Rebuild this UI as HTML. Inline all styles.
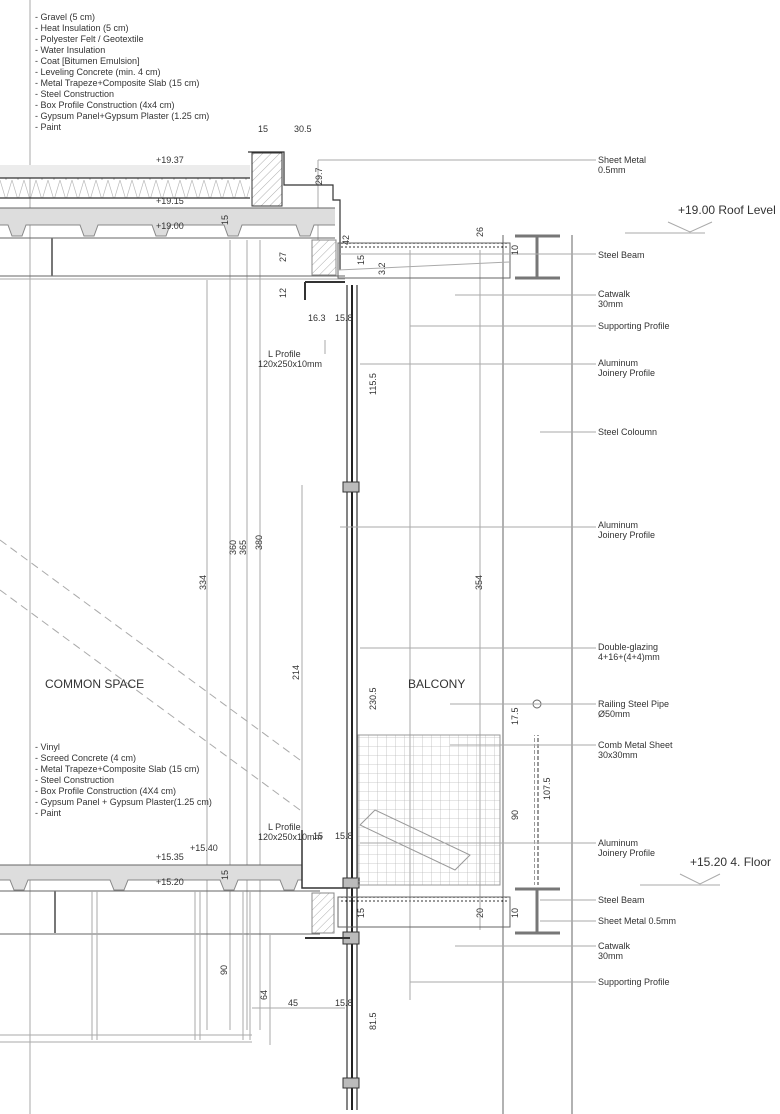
<!DOCTYPE html>
<html><head><meta charset="utf-8"><style>
body{margin:0;background:#fff}
svg{display:block}
text{font-family:"Liberation Sans",sans-serif;fill:#333}
.s{font-size:9px}
.g{stroke:#aaa;stroke-width:1;fill:none}
.d{stroke:#666;stroke-width:1;fill:none}
.k{stroke:#333;stroke-width:1.2;fill:none}
</style></head><body>
<svg width="780" height="1114" viewBox="0 0 780 1114" xmlns="http://www.w3.org/2000/svg">
<defs>
<pattern id="mesh" width="9" height="9" patternUnits="userSpaceOnUse"><path d="M9 0V9M0 9H9" stroke="#bbb" stroke-width="0.8" fill="none"/></pattern>
<pattern id="hatch" width="6" height="6" patternUnits="userSpaceOnUse" patternTransform="rotate(45)"><path d="M0 0V6" stroke="#999" stroke-width="0.8"/></pattern>
<pattern id="ins" width="12" height="20" patternUnits="userSpaceOnUse"><path d="M0 0L6 20L12 0" stroke="#bbb" stroke-width="0.7" fill="none"/></pattern>
<pattern id="rail" width="4" height="6" patternUnits="userSpaceOnUse"><path d="M2 0V4" stroke="#333" stroke-width="1"/></pattern>
</defs>
<line x1="30" y1="0" x2="30" y2="1114" class="g"/>
<line x1="207" y1="280" x2="207" y2="1030" class="g"/>
<line x1="230" y1="240" x2="230" y2="1030" class="g"/>
<line x1="247" y1="240" x2="247" y2="1030" class="g"/>
<line x1="260" y1="240" x2="260" y2="1030" class="g"/>
<line x1="302" y1="485" x2="302" y2="860" class="g"/>
<line x1="410" y1="250" x2="410" y2="1000" class="g"/>
<line x1="480" y1="250" x2="480" y2="930" class="g"/>
<line x1="503" y1="235" x2="503" y2="1114" class="d"/>
<line x1="572" y1="235" x2="572" y2="1114" class="d"/>
<line x1="318" y1="160" x2="318" y2="240" class="g"/>
<rect x="0" y="165" width="250" height="13" fill="#ececec"/>
<rect x="0" y="178" width="250" height="20" fill="url(#ins)"/>
<line x1="0" y1="178" x2="250" y2="178" class="k"/>
<line x1="0" y1="198" x2="250" y2="198" class="k"/>
<rect x="0" y="208" width="335" height="17" fill="#ddd"/>
<path d="M0 225 H8 L12 236 H22 L26 225 H80 L84 236 H94 L98 225 H152 L156 236 H166 L170 225 H224 L228 236 H238 L242 225 H296 L300 236 H310 L314 225 H335" fill="#ddd" stroke="#888"/>
<line x1="0" y1="208" x2="335" y2="208" class="d"/>
<line x1="0" y1="238" x2="335" y2="238" class="d"/>
<line x1="0" y1="276" x2="345" y2="276" class="d"/>
<line x1="0" y1="279" x2="345" y2="279" class="g"/>
<line x1="52" y1="238" x2="52" y2="276" stroke="#777" stroke-width="2"/>
<rect x="252" y="153" width="30" height="53" fill="url(#hatch)" stroke="#333"/>
<path d="M248 152 H284 V185 H333 V200 H340 V270" class="k"/>
<rect x="312" y="240" width="24" height="35" fill="url(#hatch)" stroke="#888"/>
<path d="M305 282 V300 M305 282 H345" stroke="#333" stroke-width="2"/>
<rect x="338" y="243" width="172" height="5" fill="url(#rail)"/>
<rect x="338" y="243" width="172" height="35" class="d"/>
<line x1="338" y1="270" x2="510" y2="262" class="g"/>
<path d="M515 236 H560 M515 278 H560 M537 236 V278" stroke="#777" stroke-width="3" fill="none"/>
<line x1="347" y1="285" x2="347" y2="1110" class="k"/>
<line x1="352" y1="285" x2="352" y2="1110" stroke="#222" stroke-width="2"/>
<line x1="357" y1="285" x2="357" y2="1110" class="k"/>
<rect x="343" y="482" width="16" height="10" fill="#bbb" stroke="#333"/>
<rect x="343" y="878" width="16" height="10" fill="#bbb" stroke="#333"/>
<rect x="343" y="932" width="16" height="12" fill="#bbb" stroke="#333"/>
<rect x="343" y="1078" width="16" height="10" fill="#bbb" stroke="#333"/>
<line x1="0" y1="540" x2="300" y2="760" stroke="#aaa" stroke-dasharray="8 5"/>
<line x1="0" y1="590" x2="300" y2="810" stroke="#aaa" stroke-dasharray="8 5"/>
<rect x="358" y="735" width="142" height="150" fill="url(#mesh)" stroke="#999"/>
<path d="M360 825 L375 810 L470 855 L455 870 Z" fill="none" stroke="#999"/>
<rect x="534" y="735" width="6" height="150" fill="url(#rail)"/>
<circle cx="537" cy="704" r="4" class="d"/>
<line x1="518" y1="704" x2="560" y2="704" class="g"/>
<rect x="0" y="865" width="302" height="15" fill="#ddd"/>
<path d="M0 880 H10 L14 890 H24 L28 880 H110 L114 890 H124 L128 880 H220 L224 890 H234 L238 880 H280 L284 890 H294 L298 880 H302" fill="#ddd" stroke="#888"/>
<line x1="0" y1="865" x2="302" y2="865" class="d"/>
<path d="M302 830 V888 H350" stroke="#333" stroke-width="1.5" fill="none"/>
<line x1="0" y1="891" x2="320" y2="891" class="d"/>
<line x1="0" y1="934" x2="320" y2="934" class="d"/>
<line x1="55" y1="891" x2="55" y2="933" stroke="#777" stroke-width="2"/>
<rect x="312" y="893" width="22" height="40" fill="url(#hatch)" stroke="#888"/>
<rect x="338" y="897" width="172" height="5" fill="url(#rail)"/>
<rect x="338" y="897" width="172" height="30" class="d"/>
<path d="M515 889 H560 M515 933 H560 M537 889 V933" stroke="#777" stroke-width="3" fill="none"/>
<line x1="305" y1="938" x2="350" y2="938" stroke="#333" stroke-width="2"/>
<g class="g"><line x1="92" y1="891" x2="92" y2="1040"/><line x1="97" y1="891" x2="97" y2="1040"/><line x1="195" y1="891" x2="195" y2="1040"/><line x1="200" y1="891" x2="200" y2="1040"/><line x1="243" y1="891" x2="243" y2="1040"/><line x1="250" y1="891" x2="250" y2="1040"/><line x1="0" y1="1035" x2="252" y2="1035"/><line x1="0" y1="1042" x2="252" y2="1042"/></g>
<line x1="252" y1="1008" x2="345" y2="1008" class="g"/>
<line x1="270" y1="935" x2="270" y2="1045" class="g"/>
<g class="g">
<line x1="318" y1="160" x2="596" y2="160"/><line x1="340" y1="254" x2="596" y2="254"/>
<line x1="455" y1="295" x2="596" y2="295"/><line x1="410" y1="326" x2="596" y2="326"/>
<line x1="360" y1="364" x2="596" y2="364"/><line x1="540" y1="432" x2="596" y2="432"/>
<line x1="340" y1="527" x2="596" y2="527"/><line x1="360" y1="648" x2="596" y2="648"/>
<line x1="450" y1="704" x2="596" y2="704"/><line x1="450" y1="745" x2="596" y2="745"/>
<line x1="360" y1="843" x2="596" y2="843"/><line x1="540" y1="900" x2="596" y2="900"/>
<line x1="540" y1="921" x2="596" y2="921"/><line x1="455" y1="946" x2="596" y2="946"/>
<line x1="410" y1="982" x2="596" y2="982"/><line x1="325" y1="340" x2="325" y2="354"/>
</g>
<path d="M625 233 H705 M668 222 L690 232 L712 222" class="g"/>
<path d="M640 885 H720 M680 874 L700 884 L720 874" class="g"/>
<g class="s">
<text x="35" y="20">- Gravel (5 cm)</text><text x="35" y="31">- Heat Insulation (5 cm)</text>
<text x="35" y="42">- Polyester Felt / Geotextile</text><text x="35" y="53">- Water Insulation</text>
<text x="35" y="64">- Coat [Bitumen Emulsion]</text><text x="35" y="75">- Leveling Concrete (min. 4 cm)</text>
<text x="35" y="86">- Metal Trapeze+Composite Slab (15 cm)</text><text x="35" y="97">- Steel Construction</text>
<text x="35" y="108">- Box Profile Construction (4x4 cm)</text><text x="35" y="119">- Gypsum Panel+Gypsum Plaster (1.25 cm)</text>
<text x="35" y="130">- Paint</text>
<text x="258" y="132">15</text><text x="294" y="132">30.5</text>
<text x="156" y="163">+19.37</text><text x="156" y="204">+19.15</text><text x="156" y="229">+19.00</text>
<text x="598" y="163">Sheet Metal</text><text x="598" y="173">0.5mm</text>
<text x="598" y="258">Steel Beam</text><text x="598" y="297">Catwalk</text><text x="598" y="307">30mm</text>
<text x="598" y="329">Supporting Profile</text><text x="598" y="366">Aluminum</text><text x="598" y="376">Joinery Profile</text>
<text x="598" y="435">Steel Coloumn</text><text x="598" y="528">Aluminum</text><text x="598" y="538">Joinery Profile</text>
<text x="598" y="650">Double-glazing</text><text x="598" y="660">4+16+(4+4)mm</text>
<text x="598" y="707">Railing Steel Pipe</text><text x="598" y="717">Ø50mm</text>
<text x="598" y="748">Comb Metal Sheet</text><text x="598" y="758">30x30mm</text>
<text x="598" y="846">Aluminum</text><text x="598" y="856">Joinery Profile</text>
<text x="598" y="903">Steel Beam</text><text x="598" y="924">Sheet Metal 0.5mm</text>
<text x="598" y="949">Catwalk</text><text x="598" y="959">30mm</text><text x="598" y="985">Supporting Profile</text>
<text x="268" y="357">L Profile</text><text x="258" y="367">120x250x10mm</text>
<text x="268" y="830">L Profile</text><text x="258" y="840">120x250x10mm</text>
<text x="308" y="321">16.3</text><text x="335" y="321">15.8</text>
<text x="313" y="839">15</text><text x="335" y="839">15.8</text>
<text x="288" y="1006">45</text><text x="335" y="1006">15.8</text>
<text x="156" y="860">+15.35</text><text x="190" y="851">+15.40</text><text x="156" y="885">+15.20</text>
<text x="35" y="750">- Vinyl</text><text x="35" y="761">- Screed Concrete (4 cm)</text>
<text x="35" y="772">- Metal Trapeze+Composite Slab (15 cm)</text><text x="35" y="783">- Steel Construction</text>
<text x="35" y="794">- Box Profile Construction  (4X4 cm)</text><text x="35" y="805">- Gypsum Panel + Gypsum Plaster(1.25 cm)</text>
<text x="35" y="816">- Paint</text>
</g>
<text x="45" y="688" style="font-size:12px">COMMON SPACE</text>
<text x="408" y="688" style="font-size:12px">BALCONY</text>
<text x="678" y="214" style="font-size:12px">+19.00 Roof Level</text>
<text x="690" y="866" style="font-size:12px">+15.20 4. Floor</text>
<g class="s">
<text transform="translate(206,590) rotate(-90)">334</text><text transform="translate(236,555) rotate(-90)">360</text>
<text transform="translate(246,555) rotate(-90)">365</text><text transform="translate(262,550) rotate(-90)">380</text>
<text transform="translate(299,680) rotate(-90)">214</text><text transform="translate(376,395) rotate(-90)">115.5</text>
<text transform="translate(482,590) rotate(-90)">354</text><text transform="translate(376,710) rotate(-90)">230.5</text>
<text transform="translate(518,725) rotate(-90)">17.5</text><text transform="translate(518,820) rotate(-90)">90</text>
<text transform="translate(550,800) rotate(-90)">107.5</text><text transform="translate(227,975) rotate(-90)">90</text>
<text transform="translate(267,1000) rotate(-90)">64</text><text transform="translate(376,1030) rotate(-90)">81.5</text>
<text transform="translate(286,262) rotate(-90)">27</text><text transform="translate(286,298) rotate(-90)">12</text>
<text transform="translate(322,185) rotate(-90)">29.7</text><text transform="translate(349,245) rotate(-90)">42</text>
<text transform="translate(364,265) rotate(-90)">15</text><text transform="translate(385,275) rotate(-90)">3.2</text>
<text transform="translate(483,237) rotate(-90)">26</text><text transform="translate(518,255) rotate(-90)">10</text>
<text transform="translate(483,918) rotate(-90)">20</text><text transform="translate(518,918) rotate(-90)">10</text>
<text transform="translate(364,918) rotate(-90)">15</text><text transform="translate(228,225) rotate(-90)">15</text>
<text transform="translate(228,880) rotate(-90)">15</text>
</g>
</svg>
</body></html>
